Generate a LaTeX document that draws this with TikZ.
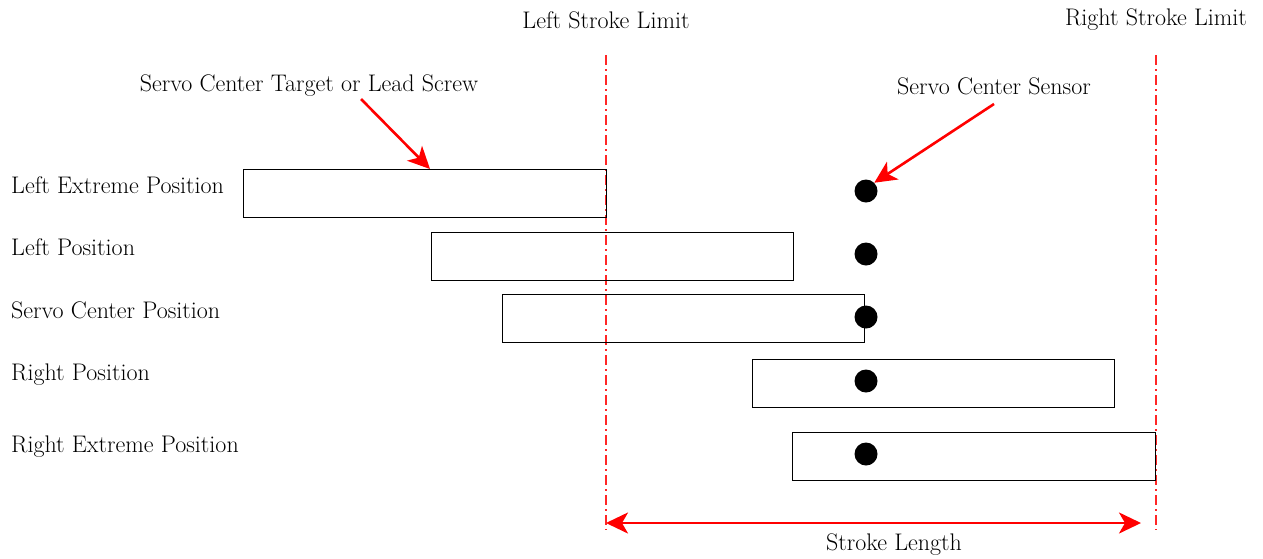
\documentclass[tikz,border=0pt]{standalone}
\usetikzlibrary{arrows.meta}
\begin{document}
\begin{tikzpicture}[x=1pt,y=-1pt,
  every node/.style={font=\fontsize{24}{28}\selectfont, inner sep=0pt},
  posbox/.style={draw=black, line width=1pt},
  sensor/.style={circle, fill=black, minimum size=23pt, inner sep=0pt},
  limit/.style={draw=red!85!white, line width=1.4pt, dash pattern=on 10pt off 4pt on 2pt off 4pt},
  tip/.style={Stealth[length=22pt,width=21pt,inset=6pt]},
  redarrow/.style={draw=red, line width=2.6pt, -{Stealth[length=22pt,width=21pt,inset=6pt]}},
  lbl/.style={anchor=west}]
\useasboundingbox (0,0) rectangle (1263,558);
% stroke limits
\coordinate (LT) at (606,55); \coordinate (LB) at (606,530);
\coordinate (RT) at (1156,55); \coordinate (RB) at (1156,530);
\draw[limit] (LT) -- (LB);
\draw[limit] (RT) -- (RB);
\node (lsl) at (606,20) {Left Stroke Limit};
\node (rsl) at (1156,20) {Right Stroke Limit};
% boxes
\draw[posbox] (243,169) rectangle (606,217);
\draw[posbox] (431,232) rectangle (793,280);
\draw[posbox] (502,294) rectangle (864,342);
\draw[posbox] (752,359) rectangle (1114,407);
\draw[posbox] (792,432) rectangle (1155,480);
\coordinate (box1top) at (430,169);
% sensors
\node[sensor] (s1) at (866,191) {};
\node[sensor] (s2) at (866,254) {};
\node[sensor] (s3) at (866,317) {};
\node[sensor] (s4) at (866,381) {};
\node[sensor] (s5) at (866,454) {};
% left labels
\node[lbl] (l1) at (11,185) {Left Extreme Position};
\node[lbl] (l2) at (11,247) {Left Position};
\node[lbl] (l3) at (11,310) {Servo Center Position};
\node[lbl] (l4) at (11,375) {Right Position};
\node[lbl] (l5) at (11,447) {Right Extreme Position};
% callouts
\node (target) at (309,86) {Servo Center Target or Lead Screw};
\node (sensorlbl) at (994,86) {Servo Center Sensor};
\coordinate (ta) at (361,99);
\coordinate (sa) at (994,104);
\draw[redarrow] (ta) -- (box1top);
\draw[redarrow] (sa) -- (s1.north east);
% stroke length
\coordinate (SL) at (606,523); \coordinate (SR) at (1141,523);
\draw[redarrow, {Stealth[length=22pt,width=21pt,inset=6pt]}-{Stealth[length=22pt,width=21pt,inset=6pt]}] (SL) -- (SR);
\node (slen) at (894,545) {Stroke Length};
\end{tikzpicture}
\end{document}
